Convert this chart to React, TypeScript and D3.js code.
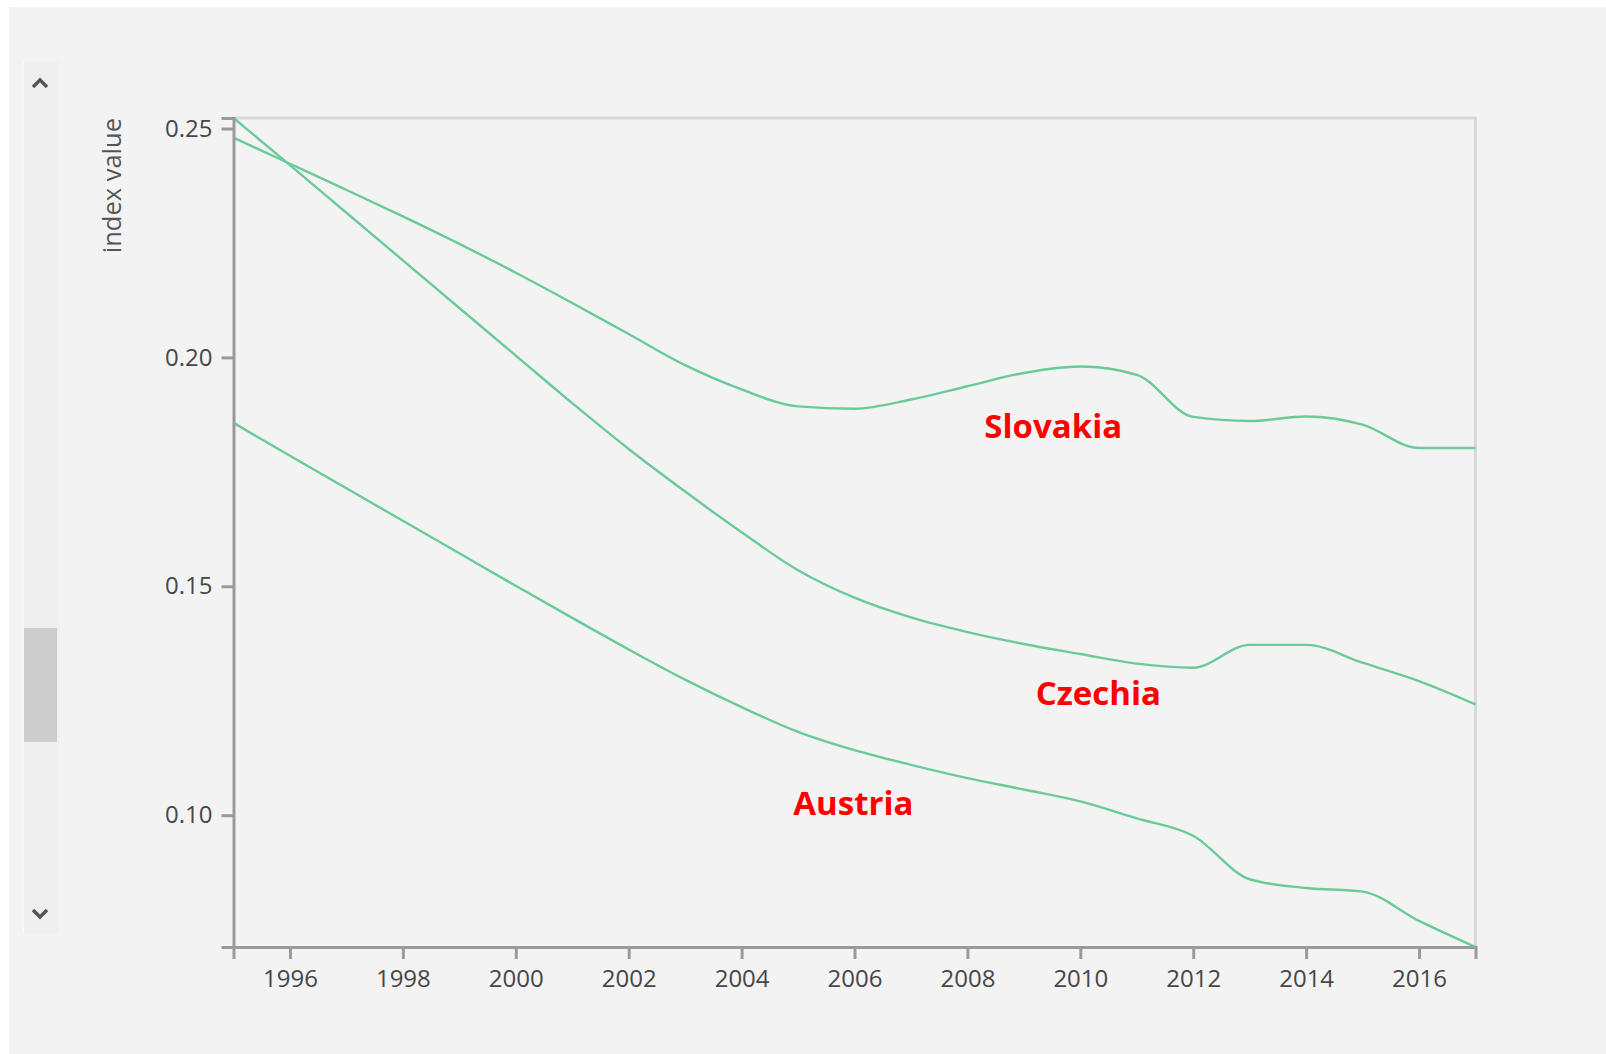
import React, { useEffect, useRef } from "react";
import * as d3 from "d3";

const years = [1995, 1996, 1997, 1998, 1999, 2000, 2001, 2002, 2003, 2004, 2005, 2006, 2007, 2008, 2009, 2010, 2011, 2012, 2013, 2014, 2015, 2016, 2017];

const slovakia = [0.2480, 0.2423, 0.2366, 0.2308, 0.2248, 0.2185, 0.2119, 0.2051, 0.1983, 0.1930, 0.1893, 0.1888, 0.1908, 0.1937, 0.1966, 0.1980, 0.1962, 0.1870, 0.1861, 0.1871, 0.1853, 0.1802, 0.1802];
const czechia = [0.2523, 0.2420, 0.2316, 0.2212, 0.2108, 0.2004, 0.1900, 0.1800, 0.1707, 0.1618, 0.1535, 0.1475, 0.1432, 0.1400, 0.1374, 0.1352, 0.1331, 0.1322, 0.1372, 0.1372, 0.1333, 0.1293, 0.1242];
const austria = [0.1857, 0.1785, 0.1714, 0.1643, 0.1572, 0.1501, 0.1431, 0.1362, 0.1296, 0.1236, 0.1182, 0.1142, 0.1110, 0.1081, 0.1056, 0.1030, 0.0993, 0.0955, 0.0860, 0.0841, 0.0833, 0.0769, 0.0712];

const seriesNames = ["Slovakia", "Czechia", "Austria"];
const seriesValues = [slovakia, czechia, austria];
// label anchor in data coordinates (year, value)
const labelYears = [2009.52, 2010.32, 2005.98];
const labelValues = [0.1823, 0.1240, 0.1000];

const xTicks = [1996, 1998, 2000, 2002, 2004, 2006, 2008, 2010, 2012, 2014, 2016];
const yTicks = [0.10, 0.15, 0.20, 0.25];
const yTitle = "index value";

const W = 1606;
const H = 1054;
const M = { left: 233.5, right: 1475.5, top: 118, bottom: 947 };
const FONT = "'Open Sans', 'Noto Sans', sans-serif";

export default function App() {
  const ref = useRef<SVGSVGElement | null>(null);

  useEffect(() => {
    const svg = d3.select(ref.current);
    svg.selectAll("*").remove();

    // page backgrounds
    svg.append("rect").attr("x", 0).attr("y", 0).attr("width", W).attr("height", H).attr("fill", "#ffffff");
    svg.append("rect").attr("x", 9).attr("y", 7).attr("width", W - 9).attr("height", H - 7).attr("fill", "#f3f3f3");

    // scrollbar
    svg.append("rect").attr("x", 23).attr("y", 61).attr("width", 36).attr("height", 872).attr("fill", "#efefef");
    svg.append("line").attr("x1", 23.5).attr("x2", 23.5).attr("y1", 61).attr("y2", 933).attr("stroke", "#fafafa").attr("stroke-width", 1);
    svg.append("rect").attr("x", 24).attr("y", 628).attr("width", 33).attr("height", 114).attr("fill", "#cdcdcd");
    svg.append("path").attr("d", "M33,87 L40,80 L47,87").attr("fill", "none").attr("stroke", "#555").attr("stroke-width", 3.5);
    svg.append("path").attr("d", "M33,910 L40,917 L47,910").attr("fill", "none").attr("stroke", "#555").attr("stroke-width", 3.5);

    const allVals = seriesValues.flat();
    const x = d3.scaleLinear().domain(d3.extent(years) as [number, number]).range([M.left, M.right]);
    const y = d3.scaleLinear().domain(d3.extent(allVals) as [number, number]).range([M.bottom, M.top]);

    // frame (top & right)
    svg.append("path")
      .attr("d", `M${M.left},${M.top} L${M.right},${M.top} L${M.right},${M.bottom}`)
      .attr("fill", "none").attr("stroke", "#d8d8d8").attr("stroke-width", 3);

    // lines
    const line = d3.line<number>()
      .x((_, i) => x(years[i]))
      .y((d) => y(d))
      .curve(d3.curveMonotoneX);

    svg.append("g").selectAll("path").data(seriesValues).enter().append("path")
      .attr("d", (d) => line(d) as string)
      .attr("fill", "none")
      .attr("stroke", "#6acb98")
      .attr("stroke-width", 2.4);

    // axes
    const xAxis = d3.axisBottom(x).tickValues(xTicks).tickFormat(d3.format("d") as any).tickSize(12).tickSizeOuter(12).tickPadding(11);
    const gx = svg.append("g").attr("transform", `translate(0,${M.bottom})`).call(xAxis);
    const yAxis = d3.axisLeft(y).tickValues(yTicks).tickFormat(d3.format(".2f") as any).tickSize(12).tickSizeOuter(12).tickPadding(9);
    const gy = svg.append("g").attr("transform", `translate(${M.left},0)`).call(yAxis);

    [gx, gy].forEach((g) => {
      g.select(".domain").attr("stroke", "#9a9a9a").attr("stroke-width", 3);
      g.selectAll(".tick line").attr("stroke", "#9a9a9a").attr("stroke-width", 3);
      g.selectAll(".tick text").attr("fill", "#474747").attr("font-size", 24).attr("font-family", FONT);
    });

    // y title
    svg.append("text")
      .attr("transform", `translate(121,${M.top}) rotate(-90)`)
      .attr("text-anchor", "end")
      .attr("font-family", FONT)
      .attr("font-size", 25.5)
      .attr("fill", "#555")
      .text(yTitle);

    // series labels
    svg.append("g").selectAll("text").data(seriesNames).enter().append("text")
      .attr("x", (_, i) => x(labelYears[i]))
      .attr("y", (_, i) => y(labelValues[i]))
      .attr("text-anchor", "middle")
      .attr("font-family", FONT)
      .attr("font-weight", "bold")
      .attr("font-size", 33)
      .attr("fill", "#ff0000")
      .text((d) => d);
  }, []);

  return (
    <svg
      ref={ref}
      width={W}
      height={H}
      style={{ position: "absolute", left: 0, top: 0, display: "block" }}
    />
  );
}
